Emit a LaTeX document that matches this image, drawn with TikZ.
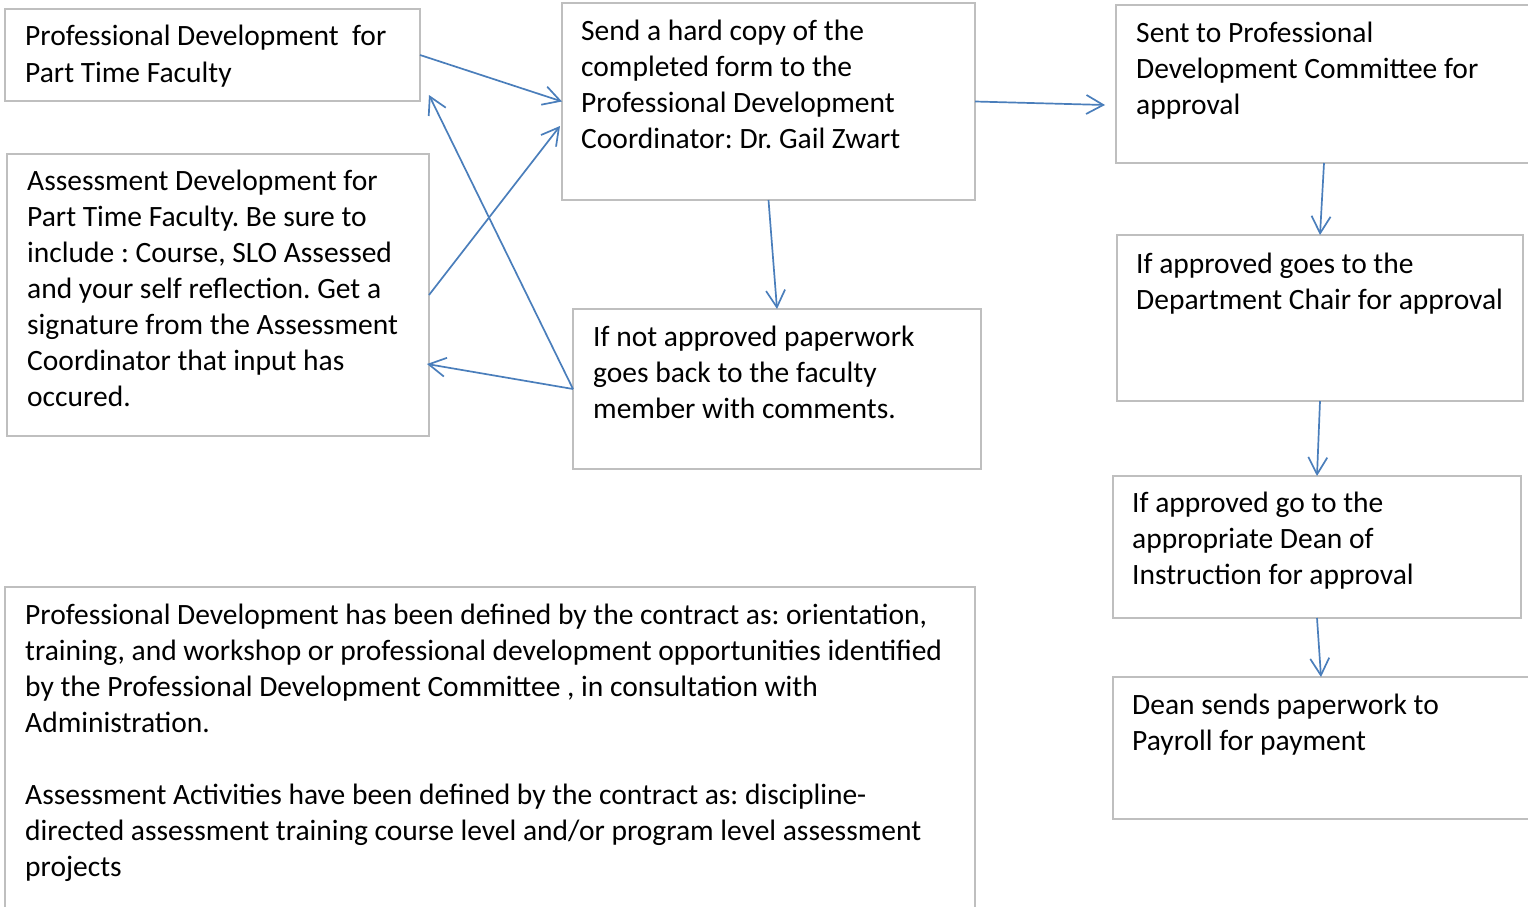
\documentclass[tikz,border=0pt]{standalone}
\usepackage{fontspec}
\setmainfont{Carlito}
\frenchspacing
\usetikzlibrary{arrows.meta,calc}
\definecolor{boxgray}{HTML}{BFBFBF}
\definecolor{arrblue}{HTML}{4A7EBB}
\tikzset{
  box/.style={draw=boxgray, line width=2pt, rectangle, inner sep=0pt, outer sep=0pt, anchor=north west},
  txt/.style={anchor=base west, align=left, inner sep=0pt, font=\fontsize{29.5}{36}\selectfont},
  conn/.style={draw=arrblue, line width=1.7pt, -{Straight Barb[length=17pt,width=19pt,line width=1.7pt]}}
}
\begin{document}
\begin{tikzpicture}[x=1pt,y=-1pt]
\useasboundingbox (0,0) rectangle (1528,907);
\clip (0,0) rectangle (1528,907);
% boxes
\node[box, minimum width=415pt, minimum height=92pt] (A) at (5,9) {};
\node[box, minimum width=413pt, minimum height=197pt] (B) at (562,3) {};
\node[box, minimum width=422pt, minimum height=282pt] (C) at (7,154) {};
\node[box, minimum width=408pt, minimum height=160pt] (D) at (573,309) {};
\node[box, minimum width=416pt, minimum height=158pt] (E) at (1116,5) {};
\node[box, minimum width=406pt, minimum height=166pt] (F) at (1117,235) {};
\node[box, minimum width=408pt, minimum height=142pt] (G) at (1113,476) {};
\node[box, minimum width=416pt, minimum height=142pt] (H) at (1113,677) {};
\node[box, minimum width=970pt, minimum height=330pt] (I) at (5,587) {};
% texts (anchored at the baseline of their last line)
\node[txt] (At) at (25,82) {Professional Development\ \ for\\Part Time Faculty};
\node[txt] (Bt) at (581,148) {Send a hard copy of the\\completed form to the\\Professional Development\\Coordinator: Dr. Gail Zwart};
\node[txt] (Ct) at (27,406) {Assessment Development for\\Part Time Faculty. Be sure to\\include : Course, SLO Assessed\\and your self reflection. Get a\\signature from the Assessment\\Coordinator that input has\\occured.};
\node[txt] (Dt) at (593,418) {If not approved paperwork\\goes back to the faculty\\member with comments.};
\node[txt] (Et) at (1136,114) {Sent to Professional\\Development Committee for\\approval};
\node[txt] (Ft) at (1136,309) {If approved goes to the\\Department Chair for approval};
\node[txt] (Gt) at (1132,584) {If approved go to the\\appropriate Dean of\\Instruction for approval};
\node[txt] (Ht) at (1132,750) {Dean sends paperwork to\\Payroll for payment};
\node[txt] (It) at (25,876) {Professional Development has been defined by the contract as: orientation,\\training, and workshop or professional development opportunities identified\\by the Professional Development Committee , in consultation with\\Administration.\\[36pt]Assessment Activities have been defined by the contract as: discipline-\\directed assessment training course level and/or program level assessment\\projects};
% free ends
\coordinate (Bw2) at ($(B.north west)+(-2,123)$);
\coordinate (Ase) at ($(A.south east)+(9,-6)$);
\coordinate (Ce2) at ($(C.north east)+(-2,210)$);
\coordinate (Etip) at ($(E.north west)+(-11,100)$);
% connectors
\draw[conn] (A.east) -- (B.west);
\draw[conn] (C.east) -- (Bw2);
\draw[conn] (D.west) -- (Ase);
\draw[conn] (D.west) -- (Ce2);
\draw[conn] (B.south) -- (D.north);
\draw[conn] (B.east) -- (Etip);
\draw[conn] (E.south) -- (F.north);
\draw[conn] (F.south) -- (G.north);
\draw[conn] (G.south) -- (H.north);
\end{tikzpicture}
\end{document}
